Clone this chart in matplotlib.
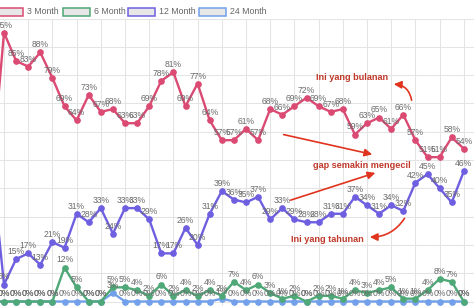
import matplotlib.pyplot as plt
from matplotlib.patches import Rectangle, FancyArrowPatch

plt.rcParams['font.family'] = ['Liberation Sans', 'DejaVu Sans']

series_names = ['3 Month', '6 Month', '12 Month', '24 Month']
colors = ['#db4a73', '#4fa877', '#6e5fe0', '#72a0ea']

# index -1 is the point cut off at the left edge
idx = list(range(-1, 39))
m3 = [46, 95, 85, 83, 88, 79, 69, 64, 73, 67, 68, 63, 63, 69, 78, 81, 69, 77, 64, 57,
      57, 61, 57, 68, 66, 69, 72, 69, 67, 68, 59, 63, 65, 61, 66, 57, 51, 51, 58, 54]
m6 = [0, 0, 0, 0, 0, 0, 12, 5, 0, 0, 5, 5, 4, 2, 6, 2, 4, 2, 4, 2,
      7, 4, 6, 3, 1, 2, 0, 2, 2, 1, 4, 3, 4, 5, 1, 1, 4, 8, 7, 0]
m12 = [48, 6, 15, 17, 13, 21, 19, 31, 28, 33, 24, 33, 33, 29, 17, 17, 26, 20, 31, 39,
       36, 35, 37, 29, 33, 29, 28, 28, 31, 31, 37, 34, 31, 34, 32, 42, 45, 40, 35, 46]
m24 = [0, 0, 0, 0, 0, 0, 0, 0, 0, 0, 3, 0, 0, 0, 0, 0, 0, 0, 0, 1,
       0, 0, 0, 0, 0, 0, 0, 0, 0, 0, 0, 0, 0, 0, 0, 0, 0, 0, 0, 0]
values = [m3, m6, m12, m24]

W, H = 474, 306
fig = plt.figure(figsize=(W / 100, H / 100), dpi=100)
ax = fig.add_axes([0, 0, 1, 1 - 18.5 / H])

# draw 24 Month first so 3 Month ends up on top
for k in range(3, -1, -1):
    ax.plot(idx, values[k], color=colors[k], lw=1.7, marker='o', ms=3.8,
            mec=colors[k], mfc=colors[k], zorder=3 + (3 - k), clip_on=True)

for k in range(3, -1, -1):
    for x, v in zip(idx, values[k]):
        ax.annotate(f'{v}%', (x, v), xytext=(0, 2.2), textcoords='offset points',
                    ha='center', va='bottom', fontsize=6.2, color='#6b6b6b', zorder=10)

ax.set_xlim(-4 / 12.1, 470 / 12.1)
ax.set_ylim(-4.5 / 2.83, 100)
ax.set_xticks(range(0, 39, 2))
ax.set_yticks(range(0, 101, 10))
ax.grid(True, color='#e4e4e4', lw=0.75, zorder=0)
ax.tick_params(length=0, labelbottom=False, labelleft=False)
for s in ax.spines.values():
    s.set_visible(False)

# legend drawn by hand like the chart.js legend
box_left = [-4, 63, 128, 199]
for k, name in enumerate(series_names):
    x0 = box_left[k]
    fig.patches.append(Rectangle((x0 / W, 1 - 16 / H), 27 / W, 8 / H,
                                 transform=fig.transFigure, facecolor='#e7e7e7',
                                 edgecolor=colors[k], lw=1.1))
    fig.text((x0 + 31) / W, 1 - 12 / H, name, fontsize=6.3, color='#666666',
             ha='left', va='center')


def px(x, y):
    return ((x - 4) / 12.1, (301.5 - y) / 2.83)


red_txt = '#c0392b'
arrow_c = '#e0341e'
ax.text(*px(352, 77), 'Ini yang bulanan', fontsize=6.6, fontweight='bold',
        color=red_txt, ha='center', va='center', zorder=12)
ax.text(*px(362, 166), 'gap semakin mengecil', fontsize=6.6, fontweight='bold',
        color=red_txt, ha='center', va='center', zorder=12)
ax.text(*px(327, 240), 'Ini yang tahunan', fontsize=6.6, fontweight='bold',
        color=red_txt, ha='center', va='center', zorder=12)

arrows = [
    (px(281, 134), px(375, 155), 'arc3,rad=0'),
    (px(288, 201), px(378, 172), 'arc3,rad=0'),
    (px(412, 103), px(391, 84), 'arc3,rad=0.45'),
    (px(406, 216), px(367, 237), 'arc3,rad=-0.3'),
]
for start, end, cs in arrows:
    ax.add_patch(FancyArrowPatch(start, end, connectionstyle=cs,
                                 arrowstyle='-|>,head_length=4.5,head_width=2.2',
                                 color=arrow_c, lw=1.2, zorder=11))

fig.savefig('out.png', dpi=100)
